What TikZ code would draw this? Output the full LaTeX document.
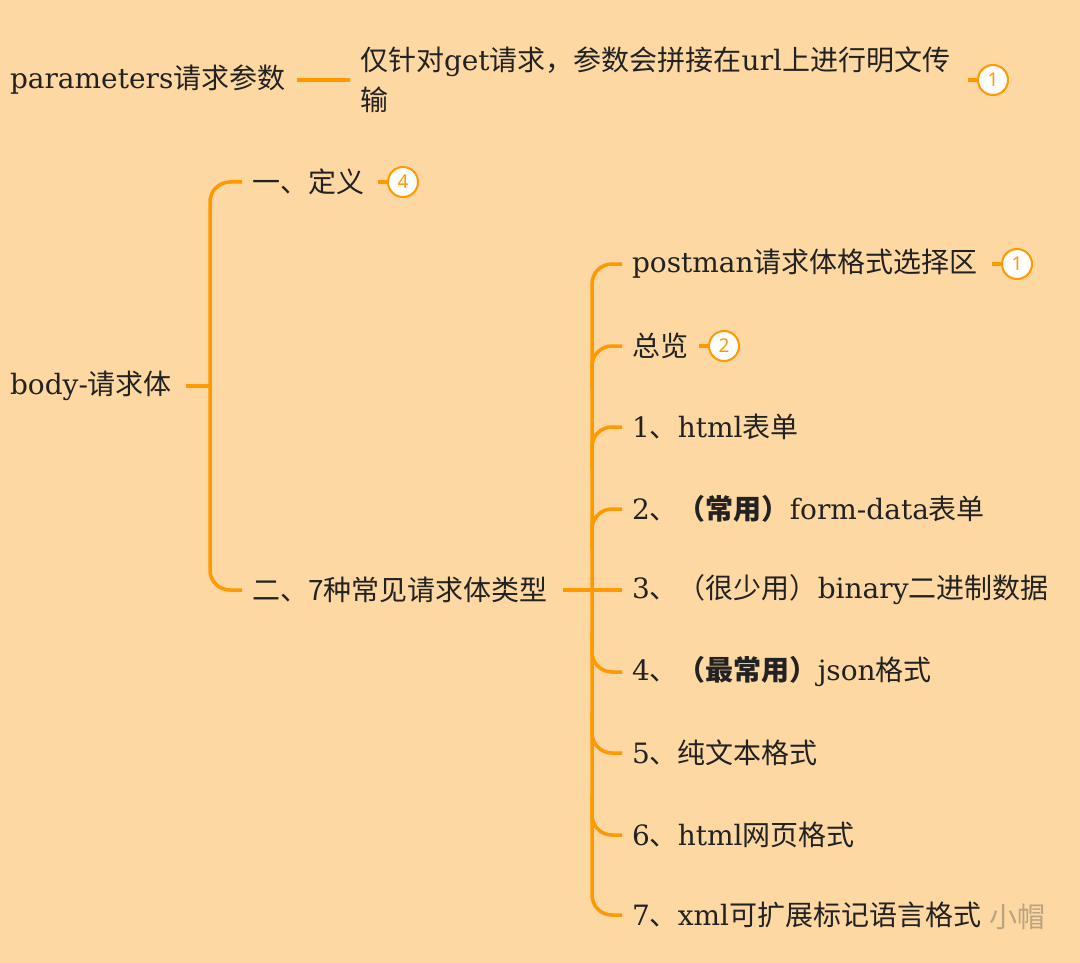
\documentclass[tikz,border=0pt]{standalone}
\usepackage{fontspec}
\setmainfont{DejaVu Serif}
\newfontfamily\cjk{Noto Sans CJK SC}
\newfontfamily\badgefont{Noto Sans}
\newcommand\zh[1]{{\cjk #1}}
\definecolor{bgpeach}{RGB}{254,216,162}
\definecolor{lineorange}{RGB}{255,153,0}
\definecolor{txtdark}{RGB}{34,34,34}
\definecolor{wmgray}{RGB}{170,150,120}
\begin{document}
\begin{tikzpicture}[x=1pt,y=-1pt,
  every node/.style={inner sep=0pt,outer sep=0pt},
  lbl/.style={anchor=west,text=txtdark,font=\fontsize{28}{40}\selectfont,align=left},
  conn/.style={draw=lineorange,line width=3.5pt},
  brace/.style={conn,rounded corners=20pt},
  badge/.style={circle,draw=lineorange,line width=2pt,fill=white,minimum size=30pt,
    text=lineorange,font=\badgefont\fontsize{19}{19}\selectfont},
  stub/.style={draw=lineorange,line width=3.5pt}]
\fill[bgpeach] (0,0) rectangle (1080,963);
\useasboundingbox (0,0) rectangle (1080,963);

% row 1
\node[lbl] (par) at (10,80) {parameters\zh{请求参数}};
\node[lbl] (pard) at (360,80) {\zh{仅针对}get\zh{请求，参数会拼接在}url\zh{上进行明文传}\\\zh{输}};
\node[badge] (k1) at (993,80) {1};
\draw[conn] ([xshift=12pt]par.east) -- ([xshift=-10pt]pard.west);
\draw[stub] (k1.west) -- ++(-10,0);

% body
\node[lbl] (body) at (10,386) {body-\zh{请求体}};
\node[lbl] (def) at (252,182) {\zh{一、定义}};
\node[lbl] (types) at (252,590) {\zh{二、7种常见请求体类型}};
\node[badge] (k4) at (403,182) {4};
\draw[stub] (k4.west) -- ++(-10,0);
\coordinate (j1) at (210,386);
\draw[conn] ([xshift=14pt]body.east) -- (j1);
\draw[brace] ([xshift=-10pt]def.west) -| (j1) |- ([xshift=-10pt]types.west);

% children
\node[lbl] (c1) at (632,264) {postman\zh{请求体格式选择区}};
\node[lbl] (c2) at (632,346) {\zh{总览}};
\node[lbl] (c3) at (632,427) {1\zh{、}html\zh{表单}};
\node[lbl] (c4) at (632,509) {2\zh{、\bfseries（常用）}form-data\zh{表单}};
\node[lbl] (c5) at (632,590) {3\zh{、（很少用）}binary\zh{二进制数据}};
\node[lbl] (c6) at (632,672) {4\zh{、\bfseries（最常用）}json\zh{格式}};
\node[lbl] (c7) at (632,753) {5\zh{、纯文本格式}};
\node[lbl] (c8) at (632,835) {6\zh{、}html\zh{网页格式}};
\node[lbl] (c9) at (632,915) {7\zh{、}xml\zh{可扩展标记语言格式}};
\node[badge] (k1b) at (1017,264) {1};
\node[badge] (k2) at (724,346) {2};
\draw[stub] (k1b.west) -- ++(-10,0);
\draw[stub] (k2.west) -- ++(-10,0);

\coordinate (j2) at (592,590);
\draw[conn] ([xshift=15pt]types.east) -- (j2);
\draw[brace] ([xshift=-10pt]c1.west) -| (j2) |- ([xshift=-10pt]c9.west);
\draw[conn] ([xshift=-10pt]c5.west) -- (j2);
\foreach \c in {c2,c3,c4}{
  \draw[brace] ([xshift=-10pt]\c.west) -| ([yshift=-40pt]\c.west -| j2);
}
\foreach \c in {c6,c7,c8}{
  \draw[brace] ([xshift=-10pt]\c.west) -| ([yshift=40pt]\c.west -| j2);
}

% watermark
\node[anchor=center,text=wmgray,font=\cjk\fontsize{28}{28}\selectfont,opacity=0.8] (wm) at (1017,917) {小帽};
\end{tikzpicture}
\end{document}
